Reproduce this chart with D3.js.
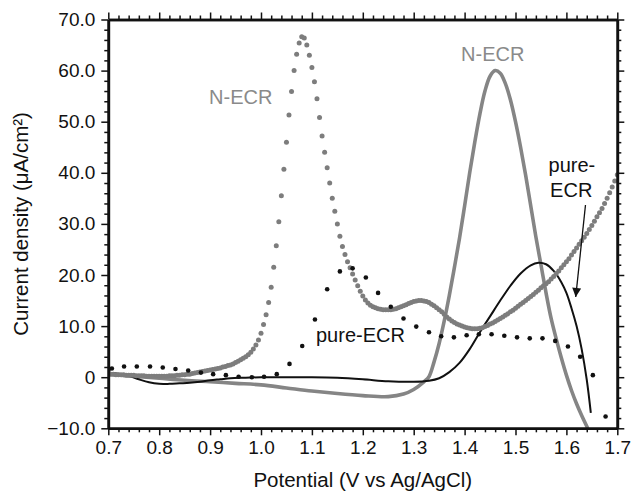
<!DOCTYPE html>
<html>
<head>
<meta charset="utf-8">
<script src="https://cdn.jsdelivr.net/npm/d3@7"></script>
<style>
  body { margin: 0; background: #fff; }
  svg { font-family: "Liberation Sans", Arial, sans-serif; }
</style>
</head>
<body>
<div id="chart"></div>
<script>
// axis ticks
const xMajor = [0.7, 0.8, 0.9, 1.0, 1.1, 1.2, 1.3, 1.4, 1.5, 1.6, 1.7];
const xTickLabels = ["0.7", "0.8", "0.9", "1.0", "1.1", "1.2", "1.3", "1.4", "1.5", "1.6", "1.7"];
const yMajor = [-10, 0, 10, 20, 30, 40, 50, 60, 70];
const yTickLabels = ["\u221210.0", "0", "10.0", "20.0", "30.0", "40.0", "50.0", "60.0", "70.0"];

// N-ECR, dotted trace: [potential V, current density uA/cm2]
const necrDots = [
  [0.700, 0.6], [0.705, 0.6], [0.710, 0.6], [0.715, 0.5], [0.720, 0.5], [0.725, 0.5], [0.730, 0.5], [0.735, 0.4], [0.740, 0.4], [0.745, 0.4],
  [0.750, 0.4], [0.755, 0.3], [0.760, 0.3], [0.765, 0.3], [0.770, 0.3], [0.775, 0.2], [0.780, 0.2], [0.785, 0.2], [0.790, 0.2], [0.795, 0.2],
  [0.800, 0.2], [0.805, 0.2], [0.810, 0.2], [0.815, 0.2], [0.820, 0.3], [0.825, 0.3], [0.830, 0.3], [0.835, 0.4], [0.840, 0.4], [0.845, 0.5],
  [0.850, 0.5], [0.855, 0.6], [0.860, 0.6], [0.865, 0.7], [0.870, 0.8], [0.875, 0.9], [0.880, 1.0], [0.885, 1.1], [0.890, 1.2], [0.895, 1.3],
  [0.900, 1.4], [0.905, 1.5], [0.910, 1.6], [0.915, 1.7], [0.920, 1.8], [0.925, 2.0], [0.930, 2.1], [0.935, 2.3], [0.940, 2.4], [0.945, 2.6],
  [0.950, 2.9], [0.955, 3.1], [0.960, 3.4], [0.965, 3.7], [0.970, 4.0], [0.975, 4.4], [0.980, 4.9], [0.985, 5.5], [0.990, 6.3], [0.995, 7.3],
  [1.000, 8.6], [1.005, 10.3], [1.010, 12.2], [1.015, 14.6], [1.020, 17.6], [1.025, 21.5], [1.030, 25.7], [1.035, 30.4], [1.040, 35.5], [1.045, 40.7],
  [1.050, 46.0], [1.055, 51.3], [1.060, 55.9], [1.065, 60.0], [1.070, 63.2], [1.075, 65.4], [1.080, 66.6], [1.085, 66.4], [1.090, 65.0], [1.095, 63.0],
  [1.100, 60.6], [1.105, 57.8], [1.110, 54.5], [1.115, 50.8], [1.120, 47.2], [1.125, 44.0], [1.130, 41.0], [1.135, 38.0], [1.140, 35.0], [1.145, 32.5],
  [1.150, 30.0], [1.155, 27.6], [1.160, 25.6], [1.165, 24.0], [1.170, 22.6], [1.175, 21.4], [1.180, 20.2], [1.185, 19.0], [1.190, 17.9], [1.195, 16.8],
  [1.200, 15.9], [1.205, 15.1], [1.210, 14.5], [1.215, 14.1], [1.220, 13.8], [1.225, 13.6], [1.230, 13.4], [1.235, 13.3], [1.240, 13.2], [1.245, 13.2],
  [1.250, 13.2], [1.255, 13.2], [1.260, 13.3], [1.265, 13.4], [1.270, 13.6], [1.275, 13.8], [1.280, 14.0], [1.285, 14.2], [1.290, 14.4], [1.295, 14.6],
  [1.300, 14.8], [1.305, 14.9], [1.310, 15.0], [1.315, 15.0], [1.320, 14.9], [1.325, 14.8], [1.330, 14.6], [1.335, 14.3], [1.340, 14.0], [1.345, 13.6],
  [1.350, 13.2], [1.355, 12.8], [1.360, 12.3], [1.365, 11.8], [1.370, 11.4], [1.375, 11.0], [1.380, 10.7], [1.385, 10.4], [1.390, 10.2], [1.395, 10.0],
  [1.400, 9.8], [1.405, 9.7], [1.410, 9.6], [1.415, 9.5], [1.420, 9.5], [1.425, 9.5], [1.430, 9.6], [1.435, 9.7], [1.440, 9.9], [1.445, 10.1],
  [1.450, 10.4], [1.455, 10.6], [1.460, 10.9], [1.465, 11.2], [1.470, 11.5], [1.475, 11.8], [1.480, 12.1], [1.485, 12.4], [1.490, 12.8], [1.495, 13.1],
  [1.500, 13.5], [1.505, 13.9], [1.510, 14.3], [1.515, 14.6], [1.520, 15.0], [1.525, 15.4], [1.530, 15.8], [1.535, 16.2], [1.540, 16.6], [1.545, 17.0],
  [1.550, 17.5], [1.555, 17.9], [1.560, 18.3], [1.565, 18.7], [1.570, 19.2], [1.575, 19.7], [1.580, 20.3], [1.585, 20.8], [1.590, 21.4], [1.595, 22.0],
  [1.600, 22.6], [1.605, 23.2], [1.610, 23.9], [1.615, 24.6], [1.620, 25.3], [1.625, 26.0], [1.630, 26.7], [1.635, 27.4], [1.640, 28.1], [1.645, 28.9],
  [1.650, 29.7], [1.655, 30.5], [1.660, 31.4], [1.665, 32.2], [1.670, 33.0], [1.675, 34.0], [1.680, 35.0], [1.685, 36.1], [1.690, 37.2], [1.695, 38.4],
  [1.700, 39.6]
];

// pure-ECR, dotted trace
const pureDotV = [0.700, 0.707, 0.731, 0.756, 0.782, 0.807, 0.832, 0.857, 0.882, 0.906, 0.931, 0.956, 0.982,
  1.006, 1.031, 1.056, 1.081, 1.106, 1.130, 1.155, 1.180, 1.206, 1.230, 1.255, 1.280, 1.305, 1.330, 1.354,
  1.379, 1.404, 1.428, 1.453, 1.478, 1.503, 1.528, 1.553, 1.578, 1.603, 1.627, 1.652, 1.677, 1.702];
const pureDotJ = [1.3, 1.7, 2.1, 2.1, 2.1, 1.9, 1.6, 1.3, 0.9, 0.6, 0.4, 0.1, 0.0,
  0.1, 0.6, 2.6, 6.1, 11.3, 17.2, 20.7, 21.3, 19.5, 16.5, 13.8, 11.5, 9.9, 8.8, 8.0,
  7.8, 8.2, 8.4, 8.4, 8.1, 7.8, 7.6, 7.6, 7.1, 6.0, 4.0, 0.4, -7.7, -10.2];

// N-ECR, solid trace
const necrLineV = [0.70, 0.75, 0.80, 0.85, 0.90, 0.95, 1.00, 1.05, 1.10, 1.15, 1.20, 1.25, 1.28, 1.30, 1.32, 1.33,
  1.34, 1.35, 1.36, 1.37, 1.38, 1.39, 1.40, 1.41, 1.42, 1.43, 1.44, 1.45, 1.46, 1.47, 1.48, 1.49, 1.50, 1.51,
  1.52, 1.53, 1.54, 1.55, 1.56, 1.57, 1.58, 1.59, 1.60, 1.61, 1.62, 1.63, 1.64, 1.642];
const necrLineJ = [0.6, 0.2, -0.2, -0.6, -0.9, -1.2, -1.5, -2.1, -2.7, -3.2, -3.6, -3.8, -3.3, -2.4, -0.9, 0.1,
  3.0, 6.6, 11.0, 16.0, 21.5, 27.2, 33.5, 40.0, 46.0, 51.5, 56.0, 58.9, 60.0, 59.5, 57.5, 54.3, 50.0, 45.0,
  39.5, 33.5, 27.5, 22.0, 16.5, 11.5, 7.5, 3.8, 0.4, -2.6, -5.2, -7.5, -9.6, -10.0];

// pure-ECR, solid trace
const pureLineV = [0.70, 0.72, 0.74, 0.76, 0.78, 0.80, 0.82, 0.84, 0.86, 0.88, 0.90, 0.92, 0.94, 0.97, 1.00,
  1.05, 1.10, 1.15, 1.20, 1.25, 1.30, 1.33, 1.35, 1.37, 1.39, 1.41, 1.43, 1.45, 1.47, 1.49, 1.51, 1.53,
  1.545, 1.56, 1.575, 1.59, 1.60, 1.61, 1.62, 1.63, 1.64, 1.648];
const pureLineJ = [0.8, 0.7, 0.3, -0.4, -1.0, -1.3, -1.3, -1.2, -1.1, -0.9, -0.6, -0.4, -0.2, -0.1, 0.0,
  0.0, 0.0, -0.1, -0.4, -0.8, -0.9, -0.7, -0.2, 1.0, 2.8, 5.5, 8.8, 11.9, 15.0, 17.9, 20.3, 21.9,
  22.4, 22.1, 20.8, 18.6, 16.5, 13.5, 10.0, 5.5, -0.5, -7.0];

const grayDot = "#7d7d7d";
const grayLine = "#858585";
const grayText = "#8a8a8a";

const width = 635, height = 496;
const plotLeft = 108.3, plotRight = 617.3, plotTop = 19.5, plotBottom = 428.3;

const svg = d3.select("#chart").append("svg")
  .attr("width", width)
  .attr("height", height);

const x = d3.scaleLinear().domain([0.7, 1.7]).range([plotLeft, plotRight]);
const y = d3.scaleLinear().domain([-10, 70]).range([plotBottom, plotTop]);

const defs = svg.append("defs");

defs.append("clipPath")
  .attr("id", "plot-clip")
  .append("rect")
  .attr("x", plotLeft)
  .attr("y", plotTop)
  .attr("width", plotRight - plotLeft)
  .attr("height", plotBottom - plotTop);

let zip = (vs, js) => vs.map((v, i) => ({ v: v, j: js[i] }));

let line = d3.line()
  .x(d => x(d.v))
  .y(d => y(d.j))
  .curve(d3.curveCatmullRom.alpha(0.5));

let plot = svg.append("g").attr("clip-path", "url(#plot-clip)");

plot.append("path")
  .datum(zip(necrLineV, necrLineJ))
  .attr("fill", "none")
  .attr("stroke", grayLine)
  .attr("stroke-width", 3.6)
  .attr("d", line);

plot.append("path")
  .datum(zip(pureLineV, pureLineJ))
  .attr("fill", "none")
  .attr("stroke", "#111")
  .attr("stroke-width", 2)
  .attr("d", line);

plot.selectAll("circle.necr")
  .data(necrDots)
  .enter()
  .append("circle")
  .attr("class", "necr")
  .attr("cx", d => x(d[0]))
  .attr("cy", d => y(d[1]))
  .attr("r", 2.5)
  .attr("fill", grayDot);

plot.selectAll("circle.pure")
  .data(zip(pureDotV, pureDotJ))
  .enter()
  .append("circle")
  .attr("class", "pure")
  .attr("cx", d => x(d.v))
  .attr("cy", d => y(d.j))
  .attr("r", 2.3)
  .attr("fill", "#111");

// axes: frame with outward ticks on all four sides
let xMinor = d3.range(0.7, 1.7001, 0.02).filter(t => Math.abs(t * 10 - Math.round(t * 10)) > 1e-6);
let yMinor = d3.range(-10, 70.001, 2).filter(t => t % 10 !== 0);

let styleAxis = (g) => {
  g.select(".domain").attr("stroke", "#111").attr("stroke-width", 2.6);
  g.selectAll(".tick line").attr("stroke", "#111").attr("stroke-width", 1.5);
  g.selectAll("text").attr("fill", "#111").attr("font-size", 19)
    .attr("font-family", "'Liberation Sans', Arial, sans-serif");
};

let fmtX = (d) => xTickLabels[xMajor.indexOf(d)];
let fmtY = (d) => yTickLabels[yMajor.indexOf(d)];

svg.append("g").attr("transform", `translate(0, ${plotBottom})`)
  .call(d3.axisBottom(x).tickValues(xMinor).tickSize(4).tickSizeOuter(0).tickFormat(""))
  .call(styleAxis);
svg.append("g").attr("transform", `translate(0, ${plotBottom})`)
  .call(d3.axisBottom(x).tickValues(xMajor).tickSize(7).tickSizeOuter(0).tickPadding(5).tickFormat(fmtX))
  .call(styleAxis);

svg.append("g").attr("transform", `translate(0, ${plotTop})`)
  .call(d3.axisTop(x).tickValues(xMinor).tickSize(4).tickSizeOuter(0).tickFormat(""))
  .call(styleAxis);
svg.append("g").attr("transform", `translate(0, ${plotTop})`)
  .call(d3.axisTop(x).tickValues(xMajor).tickSize(7).tickSizeOuter(0).tickFormat(""))
  .call(styleAxis);

svg.append("g").attr("transform", `translate(${plotLeft}, 0)`)
  .call(d3.axisLeft(y).tickValues(yMinor).tickSize(4).tickSizeOuter(0).tickFormat(""))
  .call(styleAxis);
svg.append("g").attr("transform", `translate(${plotLeft}, 0)`)
  .call(d3.axisLeft(y).tickValues(yMajor).tickSize(7).tickSizeOuter(0).tickPadding(6).tickFormat(fmtY))
  .call(styleAxis);

svg.append("g").attr("transform", `translate(${plotRight}, 0)`)
  .call(d3.axisRight(y).tickValues(yMinor).tickSize(4).tickSizeOuter(0).tickFormat(""))
  .call(styleAxis);
svg.append("g").attr("transform", `translate(${plotRight}, 0)`)
  .call(d3.axisRight(y).tickValues(yMajor).tickSize(7).tickSizeOuter(0).tickFormat(""))
  .call(styleAxis);

// axis titles
svg.append("text")
  .attr("x", (plotLeft + plotRight) / 2)
  .attr("y", 487)
  .attr("text-anchor", "middle")
  .attr("font-size", 20.5)
  .attr("fill", "#111")
  .text("Potential (V vs Ag/AgCl)");

svg.append("text")
  .attr("transform", `translate(27.5, ${(plotTop + plotBottom) / 2}) rotate(-90)`)
  .attr("text-anchor", "middle")
  .attr("font-size", 20.5)
  .attr("fill", "#111")
  .text("Current density (\u03bcA/cm\u00b2)");

// annotations, placed in data coordinates
const notes = [
  { text: "N-ECR", v: 0.898, j: 53.5, color: grayText },
  { text: "N-ECR", v: 1.393, j: 61.9, color: grayText },
  { text: "pure-ECR", v: 1.108, j: 6.9, color: "#111" },
  { text: "pure-", v: 1.565, j: 40.2, color: "#111" },
  { text: "ECR", v: 1.568, j: 35.3, color: "#111" }
];

svg.selectAll("text.note")
  .data(notes)
  .enter()
  .append("text")
  .attr("class", "note")
  .attr("x", d => x(d.v))
  .attr("y", d => y(d.j))
  .attr("font-size", 20)
  .attr("fill", d => d.color)
  .text(d => d.text);

// arrow pointing at the pure-ECR solid trace
defs.append("marker")
  .attr("id", "arrowhead")
  .attr("viewBox", "0 0 10 10")
  .attr("refX", 10)
  .attr("refY", 5)
  .attr("markerWidth", 10)
  .attr("markerHeight", 9)
  .attr("markerUnits", "userSpaceOnUse")
  .attr("orient", "auto")
  .append("path")
  .attr("d", "M0,0 L10,5 L0,10 Z")
  .attr("fill", "#111");

svg.append("line")
  .attr("x1", x(1.6375))
  .attr("y1", y(33.7))
  .attr("x2", x(1.6183))
  .attr("y2", y(15.7))
  .attr("stroke", "#111")
  .attr("stroke-width", 1.3)
  .attr("marker-end", "url(#arrowhead)");
</script>
</body>
</html>
